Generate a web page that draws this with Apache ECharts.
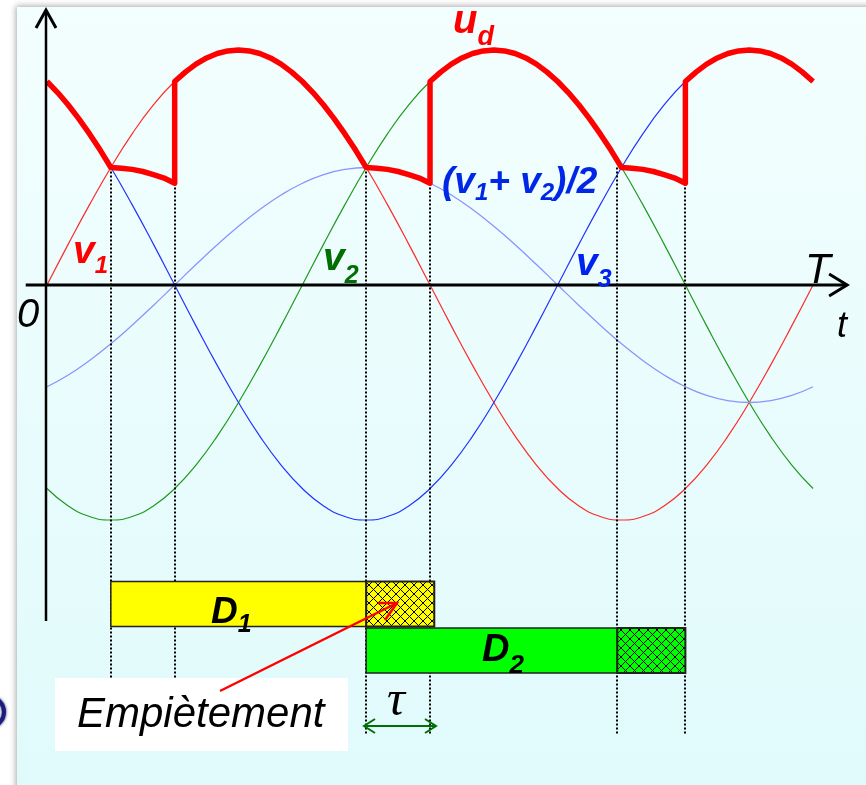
<!DOCTYPE html>
<html>
<head>
<meta charset="utf-8">
<script src="https://cdn.jsdelivr.net/npm/echarts@6/dist/echarts.min.js"></script>
<style>
  html, body { margin: 0; padding: 0; background: #ffffff; }
  #chart { width: 866px; height: 785px; }
</style>
</head>
<body>
<div id="chart"></div>
<script>
// Phase angle over one period T, in degrees
const angles = [0,10,20,30,40,50,60,70,80,90,100,110,120,130,140,150,160,170,180,
                190,200,210,220,230,240,250,260,270,280,290,300,310,320,330,340,350,360];

// Phase voltages (per unit of the peak)
const v1 = [0,0.174,0.342,0.5,0.643,0.766,0.866,0.94,0.985,1,0.985,0.94,0.866,0.766,0.643,0.5,0.342,0.174,0,
            -0.174,-0.342,-0.5,-0.643,-0.766,-0.866,-0.94,-0.985,-1,-0.985,-0.94,-0.866,-0.766,-0.643,-0.5,-0.342,-0.174,0];
const v2 = [-0.866,-0.94,-0.985,-1,-0.985,-0.94,-0.866,-0.766,-0.643,-0.5,-0.342,-0.174,0,0.174,0.342,0.5,0.643,0.766,0.866,
            0.94,0.985,1,0.985,0.94,0.866,0.766,0.643,0.5,0.342,0.174,0,-0.174,-0.342,-0.5,-0.643,-0.766,-0.866];
const v3 = [0.866,0.766,0.643,0.5,0.342,0.174,0,-0.174,-0.342,-0.5,-0.643,-0.766,-0.866,-0.94,-0.985,-1,-0.985,-0.94,-0.866,
            -0.766,-0.643,-0.5,-0.342,-0.174,0,0.174,0.342,0.5,0.643,0.766,0.866,0.94,0.985,1,0.985,0.94,0.866];
// (v1 + v2) / 2
const halfSum12 = [-0.433,-0.383,-0.321,-0.25,-0.171,-0.087,0,0.087,0.171,0.25,0.321,0.383,0.433,0.47,0.492,0.5,0.492,0.47,0.433,
                   0.383,0.321,0.25,0.171,0.087,0,-0.087,-0.171,-0.25,-0.321,-0.383,-0.433,-0.47,-0.492,-0.5,-0.492,-0.47,-0.433];

// Rectified output voltage u_d with overlap
const udAngles = [0,5,10,15,20,25,30,35,40,45,50,55,60,
                  60,65,70,75,80,85,90,95,100,105,110,115,120,125,130,135,140,145,150,155,160,165,170,175,180,
                  180,185,190,195,200,205,210,215,220,225,230,235,240,245,250,255,260,265,270,275,280,285,290,295,300,
                  300,305,310,315,320,325,330,335,340,345,350,355,360];
const udValues = [0.866,0.819,0.766,0.707,0.643,0.574,0.5,0.497,0.492,0.483,0.47,0.455,0.433,
                  0.866,0.906,0.94,0.966,0.985,0.996,1,0.996,0.985,0.966,0.94,0.906,0.866,0.819,0.766,0.707,0.643,0.574,0.5,0.497,0.492,0.483,0.47,0.455,0.433,
                  0.866,0.906,0.94,0.966,0.985,0.996,1,0.996,0.985,0.966,0.94,0.906,0.866,0.819,0.766,0.707,0.643,0.574,0.5,0.497,0.492,0.483,0.47,0.455,0.433,
                  0.866,0.906,0.94,0.966,0.985,0.996,1,0.996,0.985,0.966,0.94,0.906,0.866];

// Commutation instants (start / end of overlap)
const commutationAngles = [30, 60, 150, 180, 268, 300];

// Diode conduction intervals
const diodeNames = ['D1', 'D2'];
const conductionStart = [30, 150];
const conductionEnd = [150, 268];
const overlapEnd = [182, 300];

// ---------------------------------------------------------------------------
const chart = echarts.init(document.getElementById('chart'), null, { renderer: 'canvas' });

const pairs = (xs, ys) => xs.map((x, i) => [x, ys[i]]);

// bar row bands (value units) and vertical extents of the dotted guides
const ROWS = [[-1.262, -1.453], [-1.460, -1.651]];
const BAR_FILL = ['#ffff00', '#00ff00'];
const GUIDE_TOP = 0.5;
const GUIDE_BOTTOM = [-1.672, -1.672, -1.915, -1.915, -1.915, -1.915];

function hatch(bg) {
  const c = document.createElement('canvas');
  c.width = 9; c.height = 9;
  const g = c.getContext('2d');
  g.fillStyle = bg; g.fillRect(0, 0, 9, 9);
  g.strokeStyle = '#000'; g.lineWidth = 1;
  g.beginPath();
  g.moveTo(0, 0); g.lineTo(9, 9);
  g.moveTo(9, 0); g.lineTo(0, 9);
  g.stroke();
  return { image: c, repeat: 'repeat' };
}

// text placement helper: left ink edge + baseline
const mctx = document.createElement('canvas').getContext('2d');
function word(str, inkLeft, baseline, font, color, useAdvanceX) {
  mctx.font = font; mctx.textBaseline = 'middle'; mctx.textAlign = 'left';
  const m = mctx.measureText(str);
  const off = mctx.measureText('x').actualBoundingBoxDescent;
  const x = useAdvanceX ? inkLeft : inkLeft + m.actualBoundingBoxLeft;
  return {
    el: { type: 'text', x: x, y: baseline - off, z: 100,
          style: { text: str, font: font, fill: color, align: 'left', verticalAlign: 'middle',
                   textAlign: 'left', textVerticalAlign: 'middle' } },
    next: x + m.width
  };
}
// main text followed by subscripts, laid out left to right
function runs(parts, inkLeft, color) {
  const els = [];
  let x = inkLeft, first = true;
  parts.forEach(p => {
    const w = word(p.t, x, p.b, p.f, color, !first);
    els.push(w.el); x = w.next; first = false;
  });
  return els;
}

const BI = (s) => 'italic bold ' + s + 'px "Liberation Sans", Arial, sans-serif';
const I = (s) => 'italic ' + s + 'px "Liberation Sans", Arial, sans-serif';

const texts = [].concat(
  runs([{ t: 'u', b: 33, f: BI(40) }, { t: 'd', b: 45, f: BI(27) }], 454, '#ff0000'),
  runs([{ t: 'v', b: 263, f: BI(39) }, { t: '1', b: 273, f: BI(24) }], 75, '#ff0000'),
  runs([{ t: 'v', b: 270, f: BI(39) }, { t: '2', b: 283, f: BI(25) }], 325, '#006e00'),
  runs([{ t: 'v', b: 275, f: BI(39) }, { t: '3', b: 287, f: BI(25) }], 578, '#0022ee'),
  runs([{ t: '(v', b: 193, f: BI(37) }, { t: '1', b: 200, f: BI(24) },
        { t: '+ v', b: 193, f: BI(37) }, { t: '2', b: 200, f: BI(24) },
        { t: ')/2', b: 193, f: BI(37) }], 443, '#0026e6'),
  runs([{ t: 'D', b: 623, f: BI(37) }, { t: '1', b: 632, f: BI(25) }], 211, '#000000'),
  runs([{ t: 'D', b: 661, f: BI(38) }, { t: '2', b: 673, f: BI(26) }], 482, '#000000'),
  [word('T', 808, 283, I(42), '#000').el,
   word('t', 838, 337, I(36), '#000').el,
   word('0', 18, 327, I(40), '#000').el,
   word('Empiètement', 78, 727, I(42), '#000').el,
   word('τ', 388, 715, 'italic 50px "Liberation Serif", "DejaVu Serif", serif', '#000').el]
);

const option = {
  backgroundColor: '#ffffff',
  animation: false,
  grid: { left: 25.72, right: 18.9, top: 10.05, bottom: 25.3, containLabel: false },
  xAxis: { type: 'value', min: -10, max: 376, show: false },
  yAxis: { type: 'value', min: -2.02, max: 1.17, show: false },
  graphic: [
    // panel
    { type: 'rect', z: -10, silent: true,
      shape: { x: 17, y: 7, width: 860, height: 790 },
      style: { fill: new echarts.graphic.LinearGradient(0, 0, 0, 1, [
                 { offset: 0, color: '#f3fefe' }, { offset: 1, color: '#e0fafb' }]),
               shadowBlur: 6, shadowColor: 'rgba(0,0,0,0.35)', shadowOffsetX: -1, shadowOffsetY: -1 } },
    { type: 'circle', z: -5, shape: { cx: -11, cy: 712, r: 15 },
      style: { fill: 'none', stroke: '#1c1c7a', lineWidth: 4, shadowBlur: 3, shadowColor: '#1c1c7a' } },
    // callout box
    { type: 'rect', z: 90, shape: { x: 55, y: 678, width: 293, height: 73 }, style: { fill: '#ffffff' } },
    // callout arrow
    { type: 'polyline', z: 95, shape: { points: [[220, 691], [397, 603]] },
      style: { stroke: '#ff0000', lineWidth: 2.5, fill: 'none' } },
    { type: 'polyline', z: 95, shape: { points: [[378, 603], [397, 603], [385, 620]] },
      style: { stroke: '#ff0000', lineWidth: 2.5, fill: 'none' } },
    // overlap duration arrow
    { type: 'polyline', z: 95, shape: { points: [[364, 726], [436, 726]] },
      style: { stroke: '#007000', lineWidth: 2, fill: 'none' } },
    { type: 'polyline', z: 95, shape: { points: [[375, 719], [364, 726], [375, 733]] },
      style: { stroke: '#007000', lineWidth: 2, fill: 'none' } },
    { type: 'polyline', z: 95, shape: { points: [[425, 719], [436, 726], [425, 733]] },
      style: { stroke: '#007000', lineWidth: 2, fill: 'none' } }
  ].concat(texts),
  series: [
    { name: 'v1', type: 'line', data: pairs(angles, v1), smooth: true, showSymbol: false, z: 3,
      lineStyle: { color: '#ff2a2a', width: 1.2 } },
    { name: 'v2', type: 'line', data: pairs(angles, v2), smooth: true, showSymbol: false, z: 3,
      lineStyle: { color: '#1f9a1f', width: 1.2 } },
    { name: 'v3', type: 'line', data: pairs(angles, v3), smooth: true, showSymbol: false, z: 3,
      lineStyle: { color: '#2233ff', width: 1.2 } },
    { name: '(v1+v2)/2', type: 'line', data: pairs(angles, halfSum12), smooth: true, showSymbol: false, z: 3,
      lineStyle: { color: '#8c94ff', width: 1.3 } },
    { name: 'guides', type: 'custom', z: 4, data: commutationAngles.map(a => [a]),
      renderItem: (params, api) => {
        const i = params.dataIndex;
        const a = api.value(0);
        const p0 = api.coord([a, GUIDE_TOP]);
        const p1 = api.coord([a, GUIDE_BOTTOM[i]]);
        const x = Math.round(p0[0]);
        return { type: 'line', shape: { x1: x, y1: p0[1], x2: x, y2: p1[1] },
                 style: { stroke: '#000', lineWidth: 2, lineDash: [2, 2] } };
      } },
    { name: 'ud', type: 'line', data: pairs(udAngles, udValues), smooth: false, showSymbol: false, z: 6,
      lineStyle: { color: '#ff0000', width: 5.5, join: 'round', cap: 'butt' } },
    { name: 'diodes', type: 'custom', z: 7,
      data: diodeNames.map((n, i) => [conductionStart[i], conductionEnd[i], overlapEnd[i]]),
      renderItem: (params, api) => {
        const i = params.dataIndex;
        const [y0, y1] = ROWS[i];
        const a = api.coord([api.value(0), y0]);
        const b = api.coord([api.value(1), y1]);
        const c = api.coord([api.value(2), y1]);
        return { type: 'group', children: [
          { type: 'rect', shape: { x: a[0], y: a[1], width: b[0] - a[0], height: b[1] - a[1] },
            style: { fill: BAR_FILL[i], stroke: '#222', lineWidth: 1.5 } },
          { type: 'rect', shape: { x: b[0], y: a[1], width: c[0] - b[0], height: b[1] - a[1] },
            style: { fill: hatch(BAR_FILL[i]), stroke: '#222', lineWidth: 2 } }
        ] };
      } },
    { name: 'axes', type: 'custom', z: 8, data: [[0]],
      renderItem: (params, api) => {
        const o = api.coord([0, 0]);
        const xl = api.coord([-10, 0]);
        const xr = api.coord([376, 0]);
        const yt = api.coord([0, 1.17]);
        const yb = api.coord([0, -1.43]);
        const ox = Math.round(o[0]) - 1, oy = Math.round(o[1]);
        const st = { stroke: '#000', lineWidth: 3, fill: 'none' };
        return { type: 'group', children: [
          { type: 'line', shape: { x1: xl[0], y1: oy, x2: xr[0], y2: oy }, style: st },
          { type: 'polyline', shape: { points: [[xr[0] - 18, oy - 11], [xr[0], oy], [xr[0] - 18, oy + 11]] }, style: st },
          { type: 'line', shape: { x1: ox, y1: yb[1], x2: ox, y2: yt[1] }, style: { stroke: '#000', lineWidth: 2.5 } },
          { type: 'polyline', shape: { points: [[ox - 10, yt[1] + 18], [ox, yt[1]], [ox + 10, yt[1] + 18]] }, style: st }
        ] };
      } }
  ]
};

chart.setOption(option);
</script>
</body>
</html>
